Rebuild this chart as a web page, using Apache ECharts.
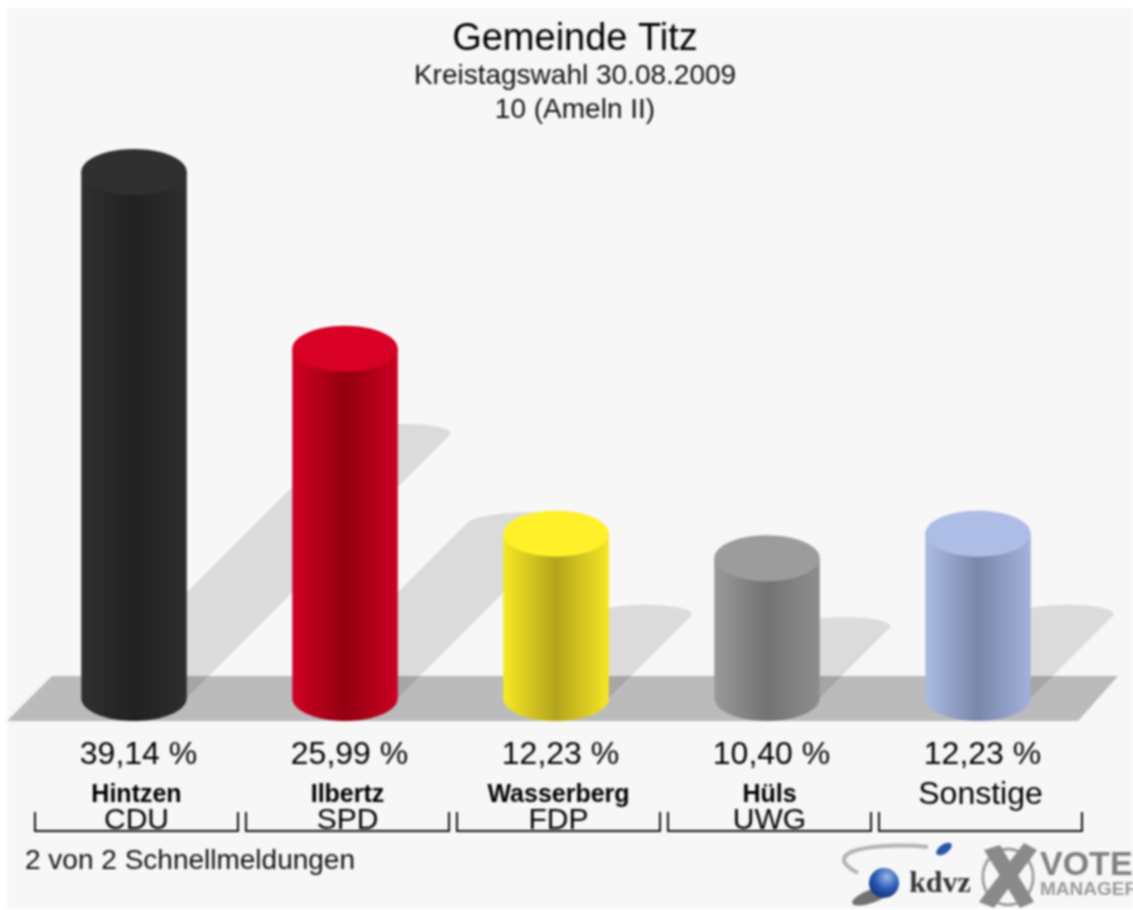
<!DOCTYPE html>
<html>
<head>
<meta charset="utf-8">
<title>Gemeinde Titz</title>
<script src="https://cdn.jsdelivr.net/npm/echarts@6/dist/echarts.min.js"></script>
<style>
  html, body { margin: 0; padding: 0; background: #fff; overflow: hidden; }
  /* die Vorlage ist eine hochskalierte, leicht unscharfe Grafik */
  #main { width: 1133px; height: 910px; filter: blur(0.8px); }
</style>
</head>
<body>
<div id="main"></div>
<script>
  // Werte
  const candidates = ['Hintzen', 'Ilbertz', 'Wasserberg', 'Hüls', 'Sonstige']
  const parties = ['CDU', 'SPD', 'FDP', 'UWG', '']
  const shares = [39.14, 25.99, 12.23, 10.40, 12.23]

  // [linker Rand, Mitte, rechter Rand, Deckel]
  const palette = [
    ['#303030', '#212121', '#2e2e2e', '#303030'],
    ['#d20024', '#93000f', '#cb0022', '#d90026'],
    ['#f7e925', '#b3a31c', '#f6e625', '#fff02a'],
    ['#999999', '#737373', '#8e8e8e', '#9c9c9c'],
    ['#acbbe3', '#7a87aa', '#a3b2dc', '#aebde6']
  ]

  const FONT = '"Liberation Sans", Arial, sans-serif'
  const RY = 23

  function arc (cx, cy, rx, ry, from, to) {
    const pts = []
    for (let i = 0; i <= 48; i++) {
      const a = from + (to - from) * i / 48
      pts.push([cx + rx * Math.cos(a), cy + ry * Math.sin(a)])
    }
    return pts
  }

  function renderShadow (params, api) {
    const top = api.coord([api.value(0), api.value(1)])
    const base = api.coord([api.value(0), 0])
    const rx = api.size([1, 0])[0] / 4
    const d = (base[1] - top[1]) * 0.5
    const pts = [[base[0] - rx, base[1]], [base[0] + rx, base[1]]]
    // Kappe des Schattens: schiefe Halbellipse, Scheitel nach rechts versetzt
    for (let i = 0; i <= 30; i++) {
      const a = Math.PI * i / 30
      pts.push([
        base[0] + d + rx * Math.cos(a) + 8 * Math.sin(a),
        base[1] - d - 11 * Math.sin(a)
      ])
    }
    return {
      type: 'polygon',
      shape: { points: pts },
      style: { fill: 'rgba(0,0,0,0.11)' }
    }
  }

  function renderCylinder (params, api) {
    const i = api.value(0)
    const top = api.coord([i, api.value(1)])
    const base = api.coord([i, 0])
    const rx = api.size([1, 0])[0] / 4
    const c = palette[i]
    const body = [[top[0] - rx, top[1]]].concat(
      arc(base[0], base[1], rx, RY, Math.PI, 0),
      [[top[0] + rx, top[1]]]
    )
    return {
      type: 'group',
      children: [
        {
          type: 'polygon',
          shape: { points: body },
          style: {
            fill: new echarts.graphic.LinearGradient(0, 0, 1, 0, [
              { offset: 0, color: c[0] },
              { offset: 0.5, color: c[1] },
              { offset: 1, color: c[2] }
            ])
          }
        },
        {
          type: 'polygon',
          shape: { points: arc(top[0], top[1], rx, RY, 0, Math.PI * 2) },
          style: { fill: c[3] }
        }
      ]
    }
  }

  function renderBracket (params, api) {
    const base = api.coord([api.value(0), 0])
    const half = api.size([1, 0])[0] / 2 - 4
    const cx = base[0] + 2.5
    return {
      type: 'polyline',
      shape: { points: [[cx - half, base[1] + 114], [cx - half, base[1] + 133], [cx + half, base[1] + 133], [cx + half, base[1] + 114]] },
      style: { fill: 'none', stroke: '#111', lineWidth: 2 }
    }
  }

  const points = shares.map((v, i) => [i, v])

  const chart = echarts.init(document.getElementById('main'))
  chart.setOption({
    animation: false,
    backgroundColor: '#ffffff',
    title: {
      text: 'Gemeinde Titz',
      subtext: 'Kreistagswahl 30.08.2009\n10 (Ameln II)',
      left: 570,
      top: 14,
      textAlign: 'center',
      itemGap: -2,
      textStyle: { fontFamily: FONT, fontSize: 38, fontWeight: 'normal', color: '#000', lineHeight: 42 },
      subtextStyle: { fontFamily: FONT, fontSize: 28, color: '#111', lineHeight: 34 }
    },
    grid: { left: 28.5, width: 1055, top: 160.4, height: 537.6 },
    xAxis: {
      type: 'category',
      data: candidates,
      axisLine: { show: false },
      axisTick: { show: false },
      axisLabel: {
        interval: 0,
        margin: 37,
        padding: [0, 0, 0, 5],
        formatter: function (name, i) {
          const pct = shares[i].toFixed(2).replace('.', ',') + ' %'
          if (!parties[i]) return '{v|' + pct + '}\n{o|' + name + '}'
          return '{v|' + pct + '}\n{n|' + name + '}\n{p|' + parties[i] + '}'
        },
        rich: {
          v: { fontFamily: FONT, fontSize: 32, color: '#000', lineHeight: 40, padding: [0, 0, 0, 4] },
          n: { fontFamily: FONT, fontSize: 25, fontWeight: 'bold', color: '#000', lineHeight: 40 },
          o: { fontFamily: FONT, fontSize: 32, color: '#000', lineHeight: 40 },
          p: { fontFamily: FONT, fontSize: 30, color: '#000', lineHeight: 11 }
        }
      }
    },
    yAxis: { type: 'value', min: 0, max: 40, show: false },
    series: [
      { type: 'custom', name: 'Schatten', z: 1, clip: false, data: points, renderItem: renderShadow },
      { type: 'custom', name: 'Anteil', z: 3, clip: false, data: points, renderItem: renderCylinder },
      { type: 'custom', name: 'Klammer', z: 3, clip: false, data: points, renderItem: renderBracket }
    ],
    graphic: [
      { type: 'rect', z: -10, shape: { x: 7, y: 8, width: 1126, height: 900 }, style: { fill: '#f7f7f7' } },
      { type: 'polygon', z: -9, shape: { points: [[7, 721], [52, 676], [1118, 676], [1078, 721]] }, style: { fill: '#bbbbbb' } },
      { type: 'text', z: 5, x: 25, y: 861, style: { text: '2 von 2 Schnellmeldungen', fontFamily: FONT, fontSize: 28, fill: '#111', verticalAlign: 'middle' } },

      // kdvz Logo
      { type: 'bezierCurve', z: 5, shape: { x1: 928, y1: 847, cpx1: 880, cpy1: 842, cpx2: 815, cpy2: 850, x2: 858, y2: 873 }, style: { fill: 'none', stroke: '#b4b4b4', lineWidth: 4 } },
      { type: 'circle', z: 5, x: 872, y: 896, scaleX: 1.9, scaleY: 0.6, rotation: 0.35, shape: { r: 11 }, style: { fill: '#444', opacity: 0.75 } },
      {
        type: 'circle', z: 5, x: 884, y: 883, shape: { r: 15 },
        style: {
          fill: new echarts.graphic.RadialGradient(0.6, 0.3, 0.8, [
            { offset: 0, color: '#9db8ea' },
            { offset: 0.5, color: '#2a5bb5' },
            { offset: 1, color: '#0f2a6e' }
          ])
        }
      },
      { type: 'circle', z: 5, x: 944, y: 849, scaleX: 1.5, scaleY: 0.75, rotation: 0.6, shape: { r: 6 }, style: { fill: '#2a55a8' } },
      { type: 'text', z: 5, x: 940, y: 884, style: { text: 'kdvz', fontFamily: '"Liberation Serif", serif', fontSize: 30, fontWeight: 'bold', fill: '#333', align: 'center', verticalAlign: 'middle' } },

      // Vote Manager Logo
      { type: 'circle', z: 5, x: 1008, y: 877, scaleX: 0.9, shape: { r: 28 }, style: { fill: 'none', stroke: '#9a9a9a', lineWidth: 3 } },
      { type: 'polygon', z: 5, shape: { points: [[984, 850], [1000, 845], [1034, 902], [1020, 908]] }, style: { fill: '#8a8a8a' } },
      { type: 'polygon', z: 5, shape: { points: [[1024, 843], [1037, 850], [994, 908], [979, 902]] }, style: { fill: '#8a8a8a' } },
      { type: 'text', z: 5, x: 1040, y: 866, style: { text: 'VOTE', fontFamily: FONT, fontSize: 34, fontWeight: 'bold', fill: '#808080', verticalAlign: 'middle' } },
      { type: 'text', z: 5, x: 1040, y: 890, style: { text: 'MANAGER', fontFamily: FONT, fontSize: 19, fontWeight: 'bold', fill: '#9a9a9a', verticalAlign: 'middle' } }
    ]
  })
</script>
</body>
</html>
